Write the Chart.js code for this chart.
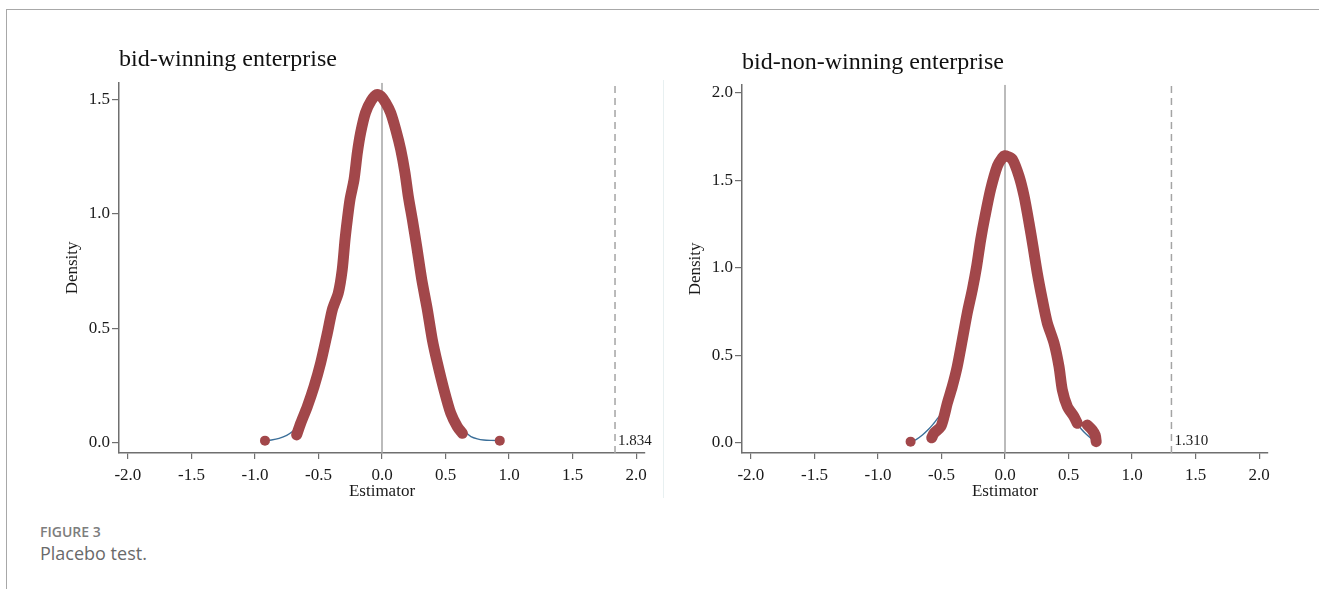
<!DOCTYPE html>
<html>
<head>
<meta charset="utf-8">
<script src="https://cdn.jsdelivr.net/npm/chart.js@4.4.1/dist/chart.umd.min.js"></script>
<style>
  body { margin: 0; background: #fff; width: 1319px; height: 589px; overflow: hidden; position: relative; font-family: "Open Sans", Lato, sans-serif; }
  .frame { position: absolute; left: 6px; top: 9px; right: 0; bottom: 0; border-left: 1px solid #a8a8a8; border-top: 1px solid #a8a8a8; }
  .sep { position: absolute; left: 663px; top: 80px; width: 1px; height: 418px; background: #e8f0f1; }
  canvas { position: absolute; top: 0; }
  #c1 { left: 0; }
  #c2 { left: 665px; }
  .fig { position: absolute; left: 40px; top: 522px; font-size: 14px; font-weight: 600; color: #7d7d7d; }
  .cap { position: absolute; left: 40px; top: 541px; font-size: 18px; color: #6a6a6a; }
</style>
</head>
<body>
<div class="frame"></div>
<div class="sep"></div>
<canvas id="c1" width="665" height="505"></canvas>
<canvas id="c2" width="654" height="505"></canvas>
<div class="fig">FIGURE 3</div>
<div class="cap">Placebo test.</div>
<script>
// tick labels
const xTicks = [-2, -1.5, -1, -0.5, 0, 0.5, 1, 1.5, 2];
const yTicksWin = [0, 0.5, 1, 1.5];
const yTicksNon = [0, 0.5, 1, 1.5, 2];

// bid-winning enterprise: placebo estimates (dense band), isolated ones, kernel density
const winBand = [
  [-0.672, 0.035], [-0.64, 0.086], [-0.588, 0.159], [-0.535, 0.246], [-0.483, 0.349],
  [-0.43, 0.48], [-0.391, 0.582], [-0.344, 0.655], [-0.313, 0.757], [-0.291, 0.888],
  [-0.273, 0.975], [-0.252, 1.063], [-0.22, 1.15], [-0.194, 1.267], [-0.168, 1.355],
  [-0.13, 1.442], [-0.085, 1.495], [-0.04, 1.522], [-0.01, 1.515], [0.029, 1.486],
  [0.068, 1.442], [0.108, 1.369], [0.147, 1.282], [0.181, 1.18], [0.207, 1.077],
  [0.239, 0.975], [0.273, 0.859], [0.313, 0.713], [0.357, 0.582], [0.396, 0.451],
  [0.436, 0.349], [0.488, 0.232], [0.541, 0.13], [0.593, 0.071], [0.633, 0.042]
];
const winDots = [[-0.921, 0.010], [0.927, 0.010]];
const winDensLeft = [[-0.921, 0.010], [-0.87, 0.013], [-0.81, 0.02], [-0.75, 0.033], [-0.70, 0.052], [-0.66, 0.075]];
const winDensRight = [[0.62, 0.065], [0.66, 0.045], [0.70, 0.028], [0.75, 0.018], [0.80, 0.013], [0.86, 0.011], [0.927, 0.010]];
const winCutoff = 1.834;

// bid-non-winning enterprise
const nonBand = [
  [-0.577, 0.03], [-0.559, 0.056], [-0.506, 0.093], [-0.48, 0.151], [-0.454, 0.228],
  [-0.415, 0.323], [-0.376, 0.437], [-0.336, 0.59], [-0.297, 0.743], [-0.257, 0.877],
  [-0.223, 1.01], [-0.191, 1.163], [-0.157, 1.297], [-0.113, 1.45], [-0.06, 1.583],
  [-0.02, 1.632], [0.0, 1.642], [0.02, 1.638], [0.058, 1.622], [0.11, 1.526],
  [0.15, 1.412], [0.189, 1.259], [0.22, 1.125], [0.254, 0.972], [0.294, 0.819],
  [0.333, 0.686], [0.386, 0.571], [0.425, 0.437], [0.451, 0.304], [0.491, 0.208],
  [0.543, 0.151], [0.569, 0.113], [0.61, null],
  [0.648, 0.103], [0.687, 0.074], [0.71, 0.045], [0.718, 0.008]
];
const nonDots = [[-0.743, 0.008]];
const nonDensLeft = [[-0.743, 0.008], [-0.70, 0.02], [-0.65, 0.046], [-0.60, 0.08], [-0.56, 0.113], [-0.506, 0.16]];
const nonDensRight = [[0.60, 0.08], [0.64, 0.05], [0.68, 0.025], [0.715, 0.01]];
const nonCutoff = 1.310;

const red = '#a2474a';
const blue = '#3b6f99';
const axisColor = '#6f6f6f';
const textColor = '#1a1a1a';
const serif = '"Liberation Serif", "Times New Roman", serif';

const pts = arr => arr.map(p => ({ x: p[0], y: p[1] }));

// prints the observed coefficient next to its dashed line
const cutoffLabel = {
  id: 'cutoffLabel',
  afterDatasetsDraw(chart, args, o) {
    const { ctx, scales: { x, y } } = chart;
    ctx.save();
    ctx.font = '15px ' + serif;
    ctx.fillStyle = textColor;
    ctx.textAlign = 'left';
    ctx.textBaseline = 'middle';
    ctx.fillText(o.value.toFixed(3), x.getPixelForValue(o.value) + 3, y.getPixelForValue(0) - 2);
    ctx.restore();
  }
};

function panel(id, title, band, dots, densL, densR, cutoff, yMin, yMax, yTicks, titlePad, pad) {
  const density = densL.concat(band.filter(p => p[1] !== null && p[0] > densL[densL.length - 1][0] && p[0] < densR[0][0]), densR);
  new Chart(document.getElementById(id), {
    type: 'scatter',
    data: {
      datasets: [
        { data: pts(band), showLine: true, borderColor: red, borderWidth: 11, borderCapStyle: 'round', borderJoinStyle: 'round', pointRadius: 0, tension: 0.25, spanGaps: false, order: 0 },
        { data: pts(dots), pointRadius: 5, pointBackgroundColor: red, pointBorderWidth: 0, order: 1 },
        { data: pts(density), showLine: true, borderColor: blue, borderWidth: 1.4, pointRadius: 0, tension: 0.3, order: 2 },
        { data: [{ x: 0, y: yMin }, { x: 0, y: yMax }], showLine: true, borderColor: '#a4a4a4', borderWidth: 1.5, pointRadius: 0, order: 3 },
        { data: [{ x: cutoff, y: yMin }, { x: cutoff, y: yMax }], showLine: true, borderColor: '#a4a4a4', borderWidth: 1.5, borderDash: [7, 5], pointRadius: 0, order: 3 }
      ]
    },
    options: {
      responsive: false,
      animation: false,
      events: [],
      layout: { padding: pad },
      scales: {
        x: {
          type: 'linear', min: -2.07, max: 2.07,
          afterBuildTicks: s => { s.ticks = xTicks.map(v => ({ value: v })); },
          afterFit: s => { s.height = 50; },
          grid: { display: true, drawOnChartArea: false, drawTicks: true, tickLength: 6, color: axisColor, lineWidth: 1.2 },
          border: { display: true, color: axisColor, width: 1.5 },
          ticks: { padding: 6, color: textColor, autoSkip: false, maxRotation: 0, font: { family: serif, size: 17 }, callback: v => Number(v).toFixed(1) },
          title: { display: true, text: 'Estimator', color: textColor, font: { family: serif, size: 17 }, padding: { top: 0, bottom: 1 } }
        },
        y: {
          type: 'linear', min: yMin, max: yMax,
          afterBuildTicks: s => { s.ticks = yTicks.map(v => ({ value: v })); },
          afterFit: s => { s.width = 57; },
          grid: { display: true, drawOnChartArea: false, drawTicks: true, tickLength: 7, color: axisColor, lineWidth: 1.2 },
          border: { display: true, color: axisColor, width: 1.5 },
          ticks: { padding: 2, color: textColor, font: { family: serif, size: 17 }, callback: v => Number(v).toFixed(1) },
          title: { display: true, text: 'Density', color: textColor, font: { family: serif, size: 17 }, padding: { top: 0, bottom: 0 } }
        }
      },
      plugins: {
        legend: { display: false },
        tooltip: { enabled: false },
        title: { display: true, text: title, align: 'start', fullSize: false, color: '#111', font: { family: serif, size: 24, weight: 'normal' }, padding: titlePad },
        cutoffLabel: { value: cutoff }
      }
    },
    plugins: [cutoffLabel]
  });
}

panel('c1', 'bid-winning enterprise', winBand, winDots, winDensLeft, winDensRight, winCutoff,
  -0.044, 1.573, yTicksWin, { top: 15, bottom: 9 }, { top: 30, left: 62, right: 20, bottom: 2 });
panel('c2', 'bid-non-winning enterprise', nonBand, nonDots, nonDensLeft, nonDensRight, nonCutoff,
  -0.057, 2.047, yTicksNon, { top: 18, bottom: 8 }, { top: 30, left: 20, right: 51, bottom: 2 });
</script>
</body>
</html>
